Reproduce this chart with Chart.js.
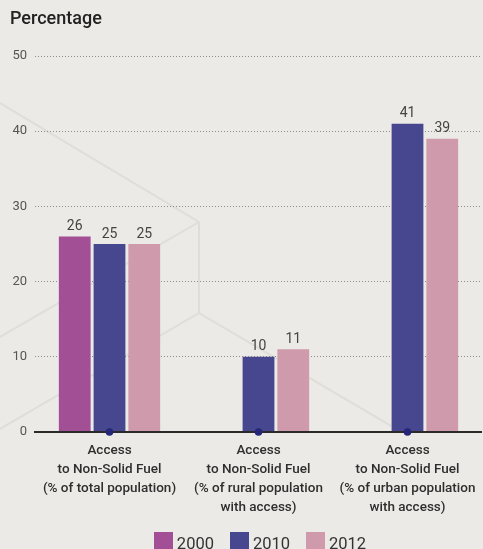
<!DOCTYPE html>
<html><head><meta charset="utf-8">
<script src="https://cdn.jsdelivr.net/npm/chart.js@4"></script>
<style>
html,body{margin:0;padding:0;background:#EBEAE6;overflow:hidden;width:483px;height:549px;}
#wrap{position:relative;width:486px;height:549px;}
#legend{position:absolute;top:532px;left:0;width:520px;display:flex;justify-content:center;font-family:"Roboto",sans-serif;font-size:16.5px;line-height:19px;color:#333;}
.item{display:flex;align-items:flex-start;margin:0 8px;}
.box{width:19px;height:19px;margin-right:4px;}
.item span{position:relative;top:2px;}
</style>
</head><body>
<div id="wrap"><canvas id="c" width="486" height="549"></canvas><div id="legend"></div></div>
<script>
const categories = [
  ["Access","to Non-Solid Fuel","(% of total population)"],
  ["Access","to Non-Solid Fuel","(% of rural population","with access)"],
  ["Access","to Non-Solid Fuel","(% of urban population","with access)"]
];
const seriesNames = ["2000","2010","2012"];
const values2000 = [26, null, null];
const values2010 = [25, 10, 41];
const values2012 = [25, 11, 39];
const seriesColors = ["#A24F96","#474790","#CF9AAB"];
const yMin = 0, yMax = 50, yStep = 10;
const titleText = "Percentage";

const FONT = '"Roboto", sans-serif';

const seriesValues = [values2000, values2010, values2012];

const decor = {
  id: 'decor',
  beforeDraw(chart) {
    const ctx = chart.ctx;
    const yb = chart.scales.y.getPixelForValue(0);
    ctx.save();
    ctx.beginPath();
    ctx.rect(0, 0, chart.width, yb);
    ctx.clip();
    ctx.strokeStyle = '#DEDDD8';
    ctx.lineWidth = 2;
    const segs = [[0,103,199,222],[199,222,199,313],[199,222,0,337],[199,313,0,429],[199,313,410,437]];
    segs.forEach(s => { ctx.beginPath(); ctx.moveTo(s[0], s[1]); ctx.lineTo(s[2], s[3]); ctx.stroke(); });
    ctx.restore();
  }
};

const baseline = {
  id: 'baseline',
  beforeDatasetDraw(chart, args) {
    if (chart.data.datasets[args.index].type !== 'line') return;
    const ctx = chart.ctx, ca = chart.chartArea;
    const y = chart.scales.y.getPixelForValue(0);
    ctx.save();
    ctx.strokeStyle = '#2A2A2A';
    ctx.lineWidth = 2;
    ctx.beginPath();
    ctx.moveTo(ca.left - 1, y);
    ctx.lineTo(ca.right, y);
    ctx.stroke();
    ctx.restore();
  }
};

const valueLabels = {
  id: 'valueLabels',
  afterDatasetsDraw(chart) {
    const ctx = chart.ctx;
    ctx.save();
    ctx.font = '14px ' + FONT;
    ctx.fillStyle = '#444';
    ctx.textAlign = 'center';
    ctx.textBaseline = 'bottom';
    chart.data.datasets.forEach((ds, i) => {
      if (ds.type !== 'bar') return;
      const meta = chart.getDatasetMeta(i);
      meta.data.forEach((el, j) => {
        const v = ds.data[j];
        if (v == null) return;
        ctx.fillText(String(v), el.x, el.y - 3);
      });
    });
    ctx.restore();
  }
};

const datasets = seriesNames.map((name, i) => ({
  type: 'bar',
  label: name,
  data: seriesValues[i],
  backgroundColor: seriesColors[i],
  borderWidth: 0,
  categoryPercentage: 0.7,
  barPercentage: 0.914,
  order: 1
}));
datasets.push({
  type: 'line',
  label: 'marker',
  data: categories.map(() => 0),
  showLine: false,
  pointRadius: 3.8,
  pointBackgroundColor: '#25257A',
  pointBorderWidth: 0,
  order: -1,
  clip: false
});

new Chart(document.getElementById('c'), {
  data: { labels: categories, datasets },
  options: {
    responsive: false,
    animation: false,
    layout: { padding: { left: 10, right: 0, top: 0, bottom: 31 } },
    plugins: {
      legend: { display: false },
      tooltip: { enabled: false },
      title: {
        display: true, text: titleText, align: 'start',
        color: '#222',
        font: { family: FONT, size: 18, weight: '500', lineHeight: 1.2 },
        padding: { top: 9, bottom: 25.4 }
      }
    },
    scales: {
      x: {
        grid: { display: false },
        border: { display: false },
        ticks: {
          color: '#2E2E2E', autoSkip: false, maxRotation: 0, padding: 1,
          font: { family: FONT, size: 13.5, weight: '500', lineHeight: 19/13.5 }
        }
      },
      y: {
        min: yMin, max: yMax,
        afterFit(scale) { scale.width = 25; },
        grid: { color: '#8C8C8C', lineWidth: 1, drawTicks: false },
        border: { display: false, dash: [1, 2] },
        ticks: {
          stepSize: yStep, padding: 8, color: '#555',
          font: { family: FONT, size: 13 }
        }
      }
    }
  },
  plugins: [decor, baseline, valueLabels]
});

const lg = document.getElementById('legend');
seriesNames.forEach((n, i) => {
  const it = document.createElement('div'); it.className = 'item';
  const b = document.createElement('div'); b.className = 'box'; b.style.background = seriesColors[i];
  const t = document.createElement('span'); t.textContent = n;
  it.appendChild(b); it.appendChild(t); lg.appendChild(it);
});
</script>
</body></html>
